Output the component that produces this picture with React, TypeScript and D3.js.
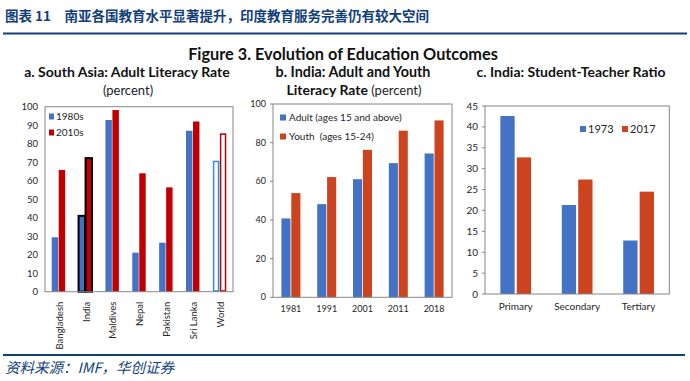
import React from "react";
import * as d3 from "d3";

const headerTitle = "图表 11　南亚各国教育水平显著提升，印度教育服务完善仍有较大空间";
const sourceText = "资料来源：IMF，华创证券";
const figureTitle = "Figure 3. Evolution of Education Outcomes";

// Panel a
const aCountries = ["Bangladesh", "India", "Maldives", "Nepal", "Pakistan", "Sri Lanka", "World"];
const aSeries = ["1980s", "2010s"];
const a1980s = [29.4, 41, 92.8, 21.1, 26.5, 87, 70.8];
const a2010s = [65.8, 72.2, 98.2, 64, 56.4, 92, 85.6];
const aTicks = [0, 10, 20, 30, 40, 50, 60, 70, 80, 90, 100];

// Panel b
const bYears = ["1981", "1991", "2001", "2011", "2018"];
const bSeries = ["Adult (ages 15 and above)", "Youth  (ages 15-24)"];
const bAdult = [40.8, 48.2, 61.1, 69.4, 74.4];
const bYouth = [53.9, 62.2, 76.3, 86.2, 91.5];
const bTicks = [0, 20, 40, 60, 80, 100];

// Panel c
const cLevels = ["Primary", "Secondary", "Tertiary"];
const cSeries = ["1973", "2017"];
const c1973 = [42.6, 21.3, 12.8];
const c2017 = [32.7, 27.4, 24.5];
const cTicks = [0, 5, 10, 15, 20, 25, 30, 35, 40, 45];

const BLUE = "#4472C4";
const RED_A = "#C00000";
const RED_B = "#CC4320";
const WORLD_BLUE = "#2E8FD6";
const NAVY = "#123F7A";
const AXIS = "#868686";
const TXT = "#262626";
const FONT = "Lato, 'Liberation Sans', sans-serif";

function YAxis({ y, ticks, x, size, tickMarks }: any) {
  return (
    <g>
      {ticks.map((t: number) => (
        <g key={t}>
          {tickMarks && <line x1={x - 3} x2={x} y1={y(t)} y2={y(t)} stroke={AXIS} strokeWidth={1} />}
          <text x={x - 7} y={y(t)} dy="0.35em" textAnchor="end" fontSize={size} fill={TXT} fontFamily={FONT}>
            {t}
          </text>
        </g>
      ))}
    </g>
  );
}

function PanelA() {
  const left = 45, right = 233, top = 106.7, bottom = 291.7;
  const x0 = d3.scaleBand<string>().domain(aCountries).range([left, right]).paddingInner(0.5).paddingOuter(0.25);
  const x1 = d3.scaleBand<string>().domain(aSeries).range([0, x0.bandwidth()]).paddingInner(0.08);
  const y = d3.scaleLinear().domain([0, 100]).range([bottom, top]);
  const vals = [a1980s, a2010s];
  return (
    <g>
      <text x={127} y={77} textAnchor="middle" fontSize={14} fontWeight="bold" fill="#111" fontFamily={FONT}>
        a. South Asia: Adult Literacy Rate
      </text>
      <text x={128} y={95} textAnchor="middle" fontSize={13} fill="#222" fontFamily={FONT}>
        (percent)
      </text>
      <YAxis y={y} ticks={aTicks} x={left} size={9.5} tickMarks={false} />
      {aCountries.map((c, i) =>
        aSeries.map((s, j) => {
          const v = vals[j][i];
          const color = j === 0 ? BLUE : RED_A;
          const bx = (x0(c) as number) + (x1(s) as number);
          const bw = x1.bandwidth();
          if (c === "World") {
            const sc = j === 0 ? WORLD_BLUE : RED_A;
            return (
              <rect key={c + s} x={bx + 0.75} y={y(v) + 0.75} width={bw - 1.5} height={y(0) - y(v) - 1.5}
                fill="#fff" stroke={sc} strokeWidth={1.5} />
            );
          }
          if (c === "India") {
            return (
              <rect key={c + s} x={bx} y={y(v)} width={bw} height={y(0) - y(v)}
                fill={color} stroke="#000" strokeWidth={2} />
            );
          }
          return <rect key={c + s} x={bx} y={y(v)} width={bw} height={y(0) - y(v)} fill={color} />;
        })
      )}
      <rect x={left} y={top} width={right - left} height={bottom - top} fill="none" stroke={AXIS} strokeWidth={1} />
      {aCountries.map((c) => {
        const cx = (x0(c) as number) + x0.bandwidth() / 2 + 1;
        return (
          <text key={c} transform={`translate(${cx},${bottom + 10}) rotate(-90)`} textAnchor="end" dy="0.35em"
            fontSize={9.5} fill={TXT} fontFamily={FONT}>
            {c}
          </text>
        );
      })}
      {aSeries.map((s, j) => (
        <g key={s}>
          <rect x={49} y={113.5 + j * 16} width={5} height={6} fill={j === 0 ? BLUE : RED_A} />
          <text x={56} y={116.5 + j * 16} dy="0.35em" fontSize={10} fill={TXT} fontFamily={FONT}>{s}</text>
        </g>
      ))}
    </g>
  );
}

function PanelB() {
  const left = 273, right = 452, top = 104, bottom = 297.3;
  const x0 = d3.scaleBand<string>().domain(bYears).range([left, right]).paddingInner(0.47).paddingOuter(0.235);
  const x1 = d3.scaleBand<string>().domain(bSeries).range([0, x0.bandwidth()]).paddingInner(0.08);
  const y = d3.scaleLinear().domain([0, 100]).range([bottom, top]);
  const vals = [bAdult, bYouth];
  const colors = [BLUE, RED_B];
  return (
    <g>
      <text x={353} y={77} textAnchor="middle" fontSize={14.3} fontWeight="bold" fill="#111" fontFamily={FONT}>
        b. India: Adult and Youth
      </text>
      <text x={354} y={95} textAnchor="middle" fontSize={14} fill="#111" fontFamily={FONT}>
        <tspan fontWeight="bold">Literacy Rate</tspan>
        <tspan fontSize={13} fill="#222"> (percent)</tspan>
      </text>
      <YAxis y={y} ticks={bTicks} x={left} size={9} tickMarks={true} />
      {bYears.map((c, i) =>
        bSeries.map((s, j) => {
          const v = vals[j][i];
          return (
            <rect key={c + s} x={(x0(c) as number) + (x1(s) as number)} y={y(v)} width={x1.bandwidth()}
              height={y(0) - y(v)} fill={colors[j]} />
          );
        })
      )}
      <rect x={left} y={top} width={right - left} height={bottom - top} fill="none" stroke={AXIS} strokeWidth={1} />
      {bYears.map((c) => (
        <text key={c} x={(x0(c) as number) + x0.bandwidth() / 2} y={312} textAnchor="middle" fontSize={9}
          fill={TXT} fontFamily={FONT}>
          {c}
        </text>
      ))}
      {bSeries.map((s, j) => (
        <g key={s}>
          <rect x={280} y={114.5 + j * 19} width={6} height={6} fill={colors[j]} />
          <text x={289} y={117.5 + j * 19} dy="0.35em" fontSize={10} fill={TXT} fontFamily={FONT}
            style={{ whiteSpace: "pre" }}>{s}</text>
        </g>
      ))}
    </g>
  );
}

function PanelC() {
  const left = 485, right = 669.3, top = 106, bottom = 294;
  const x0 = d3.scaleBand<string>().domain(cLevels).range([left, right]).paddingInner(0.5).paddingOuter(0.25);
  const x1 = d3.scaleBand<string>().domain(cSeries).range([0, x0.bandwidth()]).paddingInner(0.13);
  const y = d3.scaleLinear().domain([0, 45]).range([bottom, top]);
  const vals = [c1973, c2017];
  const colors = [BLUE, RED_B];
  return (
    <g>
      <text x={571} y={77} textAnchor="middle" fontSize={14} fontWeight="bold" fill="#111" fontFamily={FONT}>
        c. India: Student-Teacher Ratio
      </text>
      <YAxis y={y} ticks={cTicks} x={left} size={10} tickMarks={true} />
      {cLevels.map((c, i) =>
        cSeries.map((s, j) => {
          const v = vals[j][i];
          return (
            <rect key={c + s} x={(x0(c) as number) + (x1(s) as number)} y={y(v)} width={x1.bandwidth()}
              height={y(0) - y(v)} fill={colors[j]} />
          );
        })
      )}
      <rect x={left} y={top} width={right - left} height={bottom - top} fill="none" stroke={AXIS} strokeWidth={1} />
      {cLevels.map((c) => (
        <text key={c} x={(x0(c) as number) + x0.bandwidth() / 2} y={310} textAnchor="middle" fontSize={10}
          fill={TXT} fontFamily={FONT}>
          {c}
        </text>
      ))}
      {cSeries.map((s, j) => (
        <g key={s}>
          <rect x={580 + j * 42} y={126} width={6} height={6} fill={colors[j]} />
          <text x={588 + j * 42} y={129} dy="0.35em" fontSize={11} fill={TXT} fontFamily={FONT}>{s}</text>
        </g>
      ))}
    </g>
  );
}

export default function App() {
  return (
    <svg width={690} height={381} style={{ position: "absolute", left: 0, top: 0, background: "#fff" }}>
      <rect width={690} height={381} fill="#fff" />
      <text x={5} y={21} fontSize={13.5} fontWeight="bold" fill={NAVY} fontFamily="'Noto Sans CJK SC', sans-serif">
        {headerTitle}
      </text>
      <line x1={3} x2={687} y1={33.5} y2={33.5} stroke={NAVY} strokeWidth={2.2} />
      <text x={343} y={60} textAnchor="middle" fontSize={16.3} fontWeight="bold" fill="#111" fontFamily={FONT}>
        {figureTitle}
      </text>
      <PanelA />
      <PanelB />
      <PanelC />
      <line x1={3} x2={685} y1={355} y2={355} stroke={NAVY} strokeWidth={2.2} />
      <text x={5} y={373} fontSize={14.5} fontStyle="italic" fill={NAVY} fontFamily="'Noto Sans CJK SC', serif">
        {sourceText}
      </text>
    </svg>
  );
}
